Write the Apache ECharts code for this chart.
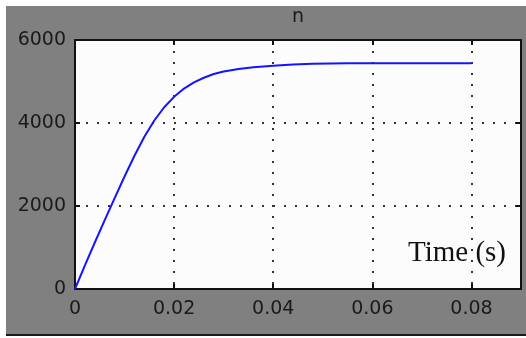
<!DOCTYPE html>
<html>
<head>
<meta charset="utf-8">
<script src="https://cdn.jsdelivr.net/npm/echarts@6/dist/echarts.min.js"></script>
<style>
  html, body { margin: 0; padding: 0; background: #fff; }
  #main {
    position: absolute;
    left: 6px;
    top: 6px;
    width: 520px;
    height: 328px;
    border-bottom: 2px solid #1a1a1a;
  }
</style>
</head>
<body>
<div id="main"></div>
<script>
  // speed n against time
  var timeSec = [0, 0.002, 0.004, 0.006, 0.008, 0.010, 0.012, 0.014, 0.016, 0.018,
                 0.020, 0.022, 0.024, 0.026, 0.028, 0.030, 0.033, 0.036, 0.040,
                 0.044, 0.048, 0.055, 0.065, 0.080];
  var speed = [0, 570, 1120, 1660, 2190, 2710, 3210, 3670, 4060, 4380,
               4630, 4830, 4980, 5090, 5180, 5240, 5300, 5345, 5380,
               5410, 5430, 5440, 5440, 5440];
  var xTicks = { min: 0, max: 0.09, step: 0.02 };
  var yTicks = { min: 0, max: 6000, step: 2000 };

  var points = timeSec.map(function (t, i) { return [t, speed[i]]; });

  var myChart = echarts.init(document.getElementById('main'));

  var labelFont = { color: '#1a1a1a', fontSize: 19, fontFamily: 'DejaVu Sans' };
  var dots = { color: '#333', width: 2, type: [2, 9] };
  var frame = { show: true, onZero: false, lineStyle: { color: '#111', width: 2 } };
  var ticks = { show: true, inside: true, length: 5, lineStyle: { color: '#111', width: 2 } };

  var option = {
    backgroundColor: '#808080',
    animation: false,
    grid: {
      left: 69, top: 34, right: 5, bottom: 45,
      show: true,
      backgroundColor: '#fcfcfc',
      borderWidth: 0
    },
    graphic: [
      {
        type: 'text', x: 292, y: 11,
        style: { text: 'n', fill: '#1a1a1a', font: '19px "DejaVu Sans"', align: 'center', verticalAlign: 'middle' }
      },
      {
        type: 'text', x: 451, y: 247, z: 10,
        style: { text: 'Time (s)', fill: '#111', font: '29px "Liberation Serif"', align: 'center', verticalAlign: 'middle' }
      }
    ],
    xAxis: [
      {
        type: 'value', min: xTicks.min, max: xTicks.max, interval: xTicks.step,
        axisLine: frame,
        axisTick: ticks,
        axisLabel: Object.assign({ margin: 11, showMaxLabel: false }, labelFont),
        splitLine: { show: true, lineStyle: dots }
      },
      {
        type: 'value', position: 'top', min: xTicks.min, max: xTicks.max, interval: xTicks.step,
        axisLine: frame,
        axisTick: ticks,
        axisLabel: { show: false },
        splitLine: { show: false }
      }
    ],
    yAxis: [
      {
        type: 'value', min: yTicks.min, max: yTicks.max, interval: yTicks.step,
        axisLine: frame,
        axisTick: ticks,
        axisLabel: Object.assign({ margin: 9, formatter: function (v) { return String(v); } }, labelFont),
        splitLine: { show: true, lineStyle: dots }
      },
      {
        type: 'value', position: 'right', min: yTicks.min, max: yTicks.max, interval: yTicks.step,
        axisLine: frame,
        axisTick: ticks,
        axisLabel: { show: false },
        splitLine: { show: false }
      }
    ],
    series: [
      {
        name: 'n',
        type: 'line',
        data: points,
        showSymbol: false,
        lineStyle: { color: '#1414ff', width: 2 }
      }
    ]
  };
  myChart.setOption(option);
</script>
</body>
</html>
